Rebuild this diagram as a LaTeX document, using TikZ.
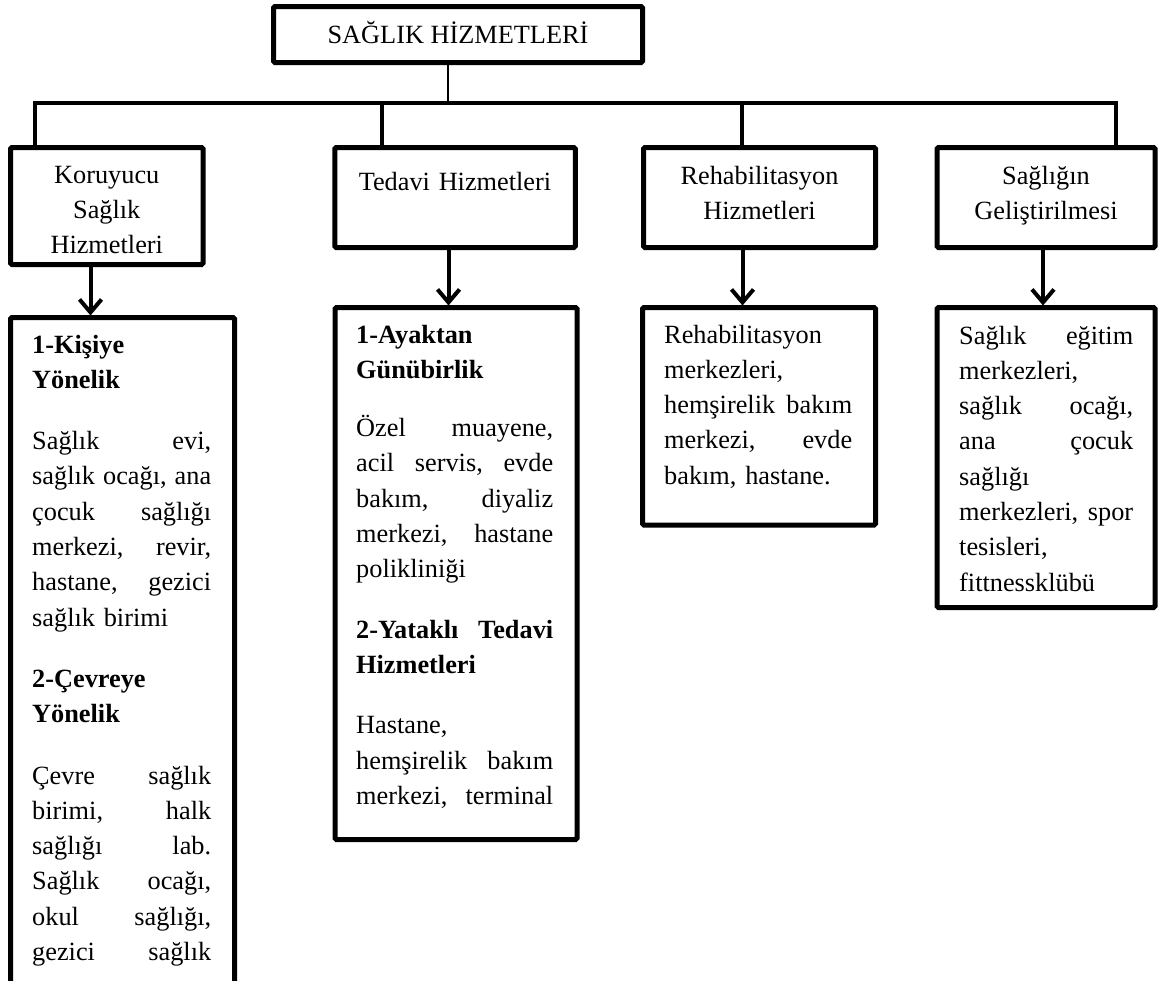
\documentclass[tikz,border=0pt]{standalone}
\usepackage{fontspec}
\setmainfont{Liberation Serif}
\usetikzlibrary{arrows.meta}
\newcommand{\bodyfont}{\fontsize{26.3pt}{35.3pt}\selectfont}
\newcommand{\J}[1]{\leavevmode\hbox to \hsize{#1}}
\begin{document}
\begin{tikzpicture}[x=1pt,y=-1pt,
  boxst/.style={draw, line width=5pt, rounded corners=1.5pt, rectangle, inner sep=0pt, outer sep=0pt},
  lbl/.style={inner sep=0pt, anchor=base, align=center, font=\bodyfont},
  body/.style={inner sep=0pt, anchor=base west, align=left, font=\bodyfont},
  busline/.style={line width=4pt, line join=miter},
  thinline/.style={line width=2.5pt},
  arr/.style={line width=4pt, shorten >=2pt, -{Straight Barb[length=13pt,width=22pt]}}]
\useasboundingbox (0,0) rectangle (1159,980);
\clip (0,0) rectangle (1159,980);
% header boxes
\node[boxst, minimum width=369pt, minimum height=56pt] (top) at (458,34.5) {};
\node[boxst, minimum width=192.5pt, minimum height=117pt] (k) at (106.75,206) {};
\node[boxst, minimum width=240.5pt, minimum height=100pt] (t) at (455,197.5) {};
\node[boxst, minimum width=232pt, minimum height=100pt] (r) at (759.5,197.5) {};
\node[boxst, minimum width=218pt, minimum height=100pt] (s) at (1046,197.5) {};
% content boxes
\node[boxst, minimum width=224pt, minimum height=682.5pt] (ka) at (122.5,658.75) {};
\node[boxst, minimum width=242pt, minimum height=532pt] (ta) at (456,573.5) {};
\node[boxst, minimum width=233pt, minimum height=217.5pt] (ra) at (759,416.25) {};
\node[boxst, minimum width=218pt, minimum height=300pt] (sa) at (1046,457.5) {};
% labels
\node[lbl] (ltop) at (458,43) {SAĞLIK HİZMETLERİ};
\node[lbl, text width=190pt] (lk) at (106.75,183) {Koruyucu\\Sağlık\\Hizmetleri};
\node[lbl, text width=230pt] (lt) at (455,190) {Tedavi Hizmetleri};
\node[lbl, text width=225pt] (lr) at (759.5,184) {Rehabilitasyon\\Hizmetleri};
\node[lbl, text width=210pt] (ls) at (1046,184) {Sağlığın\\Geliştirilmesi};
% body texts
\node[body, text width=179pt] (tka) at (32,353) {\textbf{1-Kişiye}\\ \textbf{Yönelik}\\[26pt]
 \J{Sağlık\hfill evi,}\\ \J{sağlık\hfill ocağı,\hfill ana}\\ \J{çocuk\hfill sağlığı}\\ \J{merkezi,\hfill revir,}\\ \J{hastane,\hfill gezici}\\ sağlık birimi\\[26pt]
 \textbf{2-Çevreye}\\ \textbf{Yönelik}\\[26pt]
 \J{Çevre\hfill sağlık}\\ \J{birimi,\hfill halk}\\ \J{sağlığı\hfill lab.}\\ \J{Sağlık\hfill ocağı,}\\ \J{okul\hfill sağlığı,}\\ \J{gezici\hfill sağlık}};
\node[body, text width=197pt] (tta) at (356,343) {\textbf{1-Ayaktan}\\ \textbf{Günübirlik}\\[23pt]
 \J{Özel\hfill muayene,}\\ \J{acil\hfill servis,\hfill evde}\\ \J{bakım,\hfill diyaliz}\\ \J{merkezi,\hfill hastane}\\ polikliniği\\[25pt]
 \J{\textbf{2-Yataklı}\hfill\textbf{Tedavi}}\\ \textbf{Hizmetleri}\\[25pt]
 Hastane,\\ \J{hemşirelik\hfill bakım}\\ \J{merkezi,\hfill terminal}};
\node[body, text width=188pt] (tra) at (664,343) {Rehabilitasyon\\ merkezleri,\\ \J{hemşirelik\hfill bakım}\\ \J{merkezi,\hfill evde}\\ bakım, hastane.};
\node[body, text width=174pt] (tsa) at (959,344) {\J{Sağlık\hfill eğitim}\\ merkezleri,\\ \J{sağlık\hfill ocağı,}\\ \J{ana\hfill çocuk}\\ sağlığı\\ \J{merkezleri,\hfill spor}\\ tesisleri,\\ fittnessklübü};
% connector coordinates
\coordinate (bj) at (448,103);
\coordinate (b1) at (34.5,103);
\coordinate (b2) at (382,103);
\coordinate (b3) at (742,103);
\coordinate (b4) at (1116,103);
\coordinate (a1) at (90.5,0);
\coordinate (a2) at (448.5,0);
\coordinate (a3) at (742.5,0);
\coordinate (a4) at (1043,0);
% connectors
\draw[thinline] (top.south -| bj) -- (bj);
\draw[busline] (k.north -| b1) -- (b1) -- (b4) -- (s.north -| b4);
\draw[busline] (b2) -- (t.north -| b2);
\draw[busline] (b3) -- (r.north -| b3);
\draw[arr] (k.south -| a1) -- (ka.north -| a1);
\draw[arr] (t.south -| a2) -- (ta.north -| a2);
\draw[arr] (r.south -| a3) -- (ra.north -| a3);
\draw[arr] (s.south -| a4) -- (sa.north -| a4);
\end{tikzpicture}
\end{document}
